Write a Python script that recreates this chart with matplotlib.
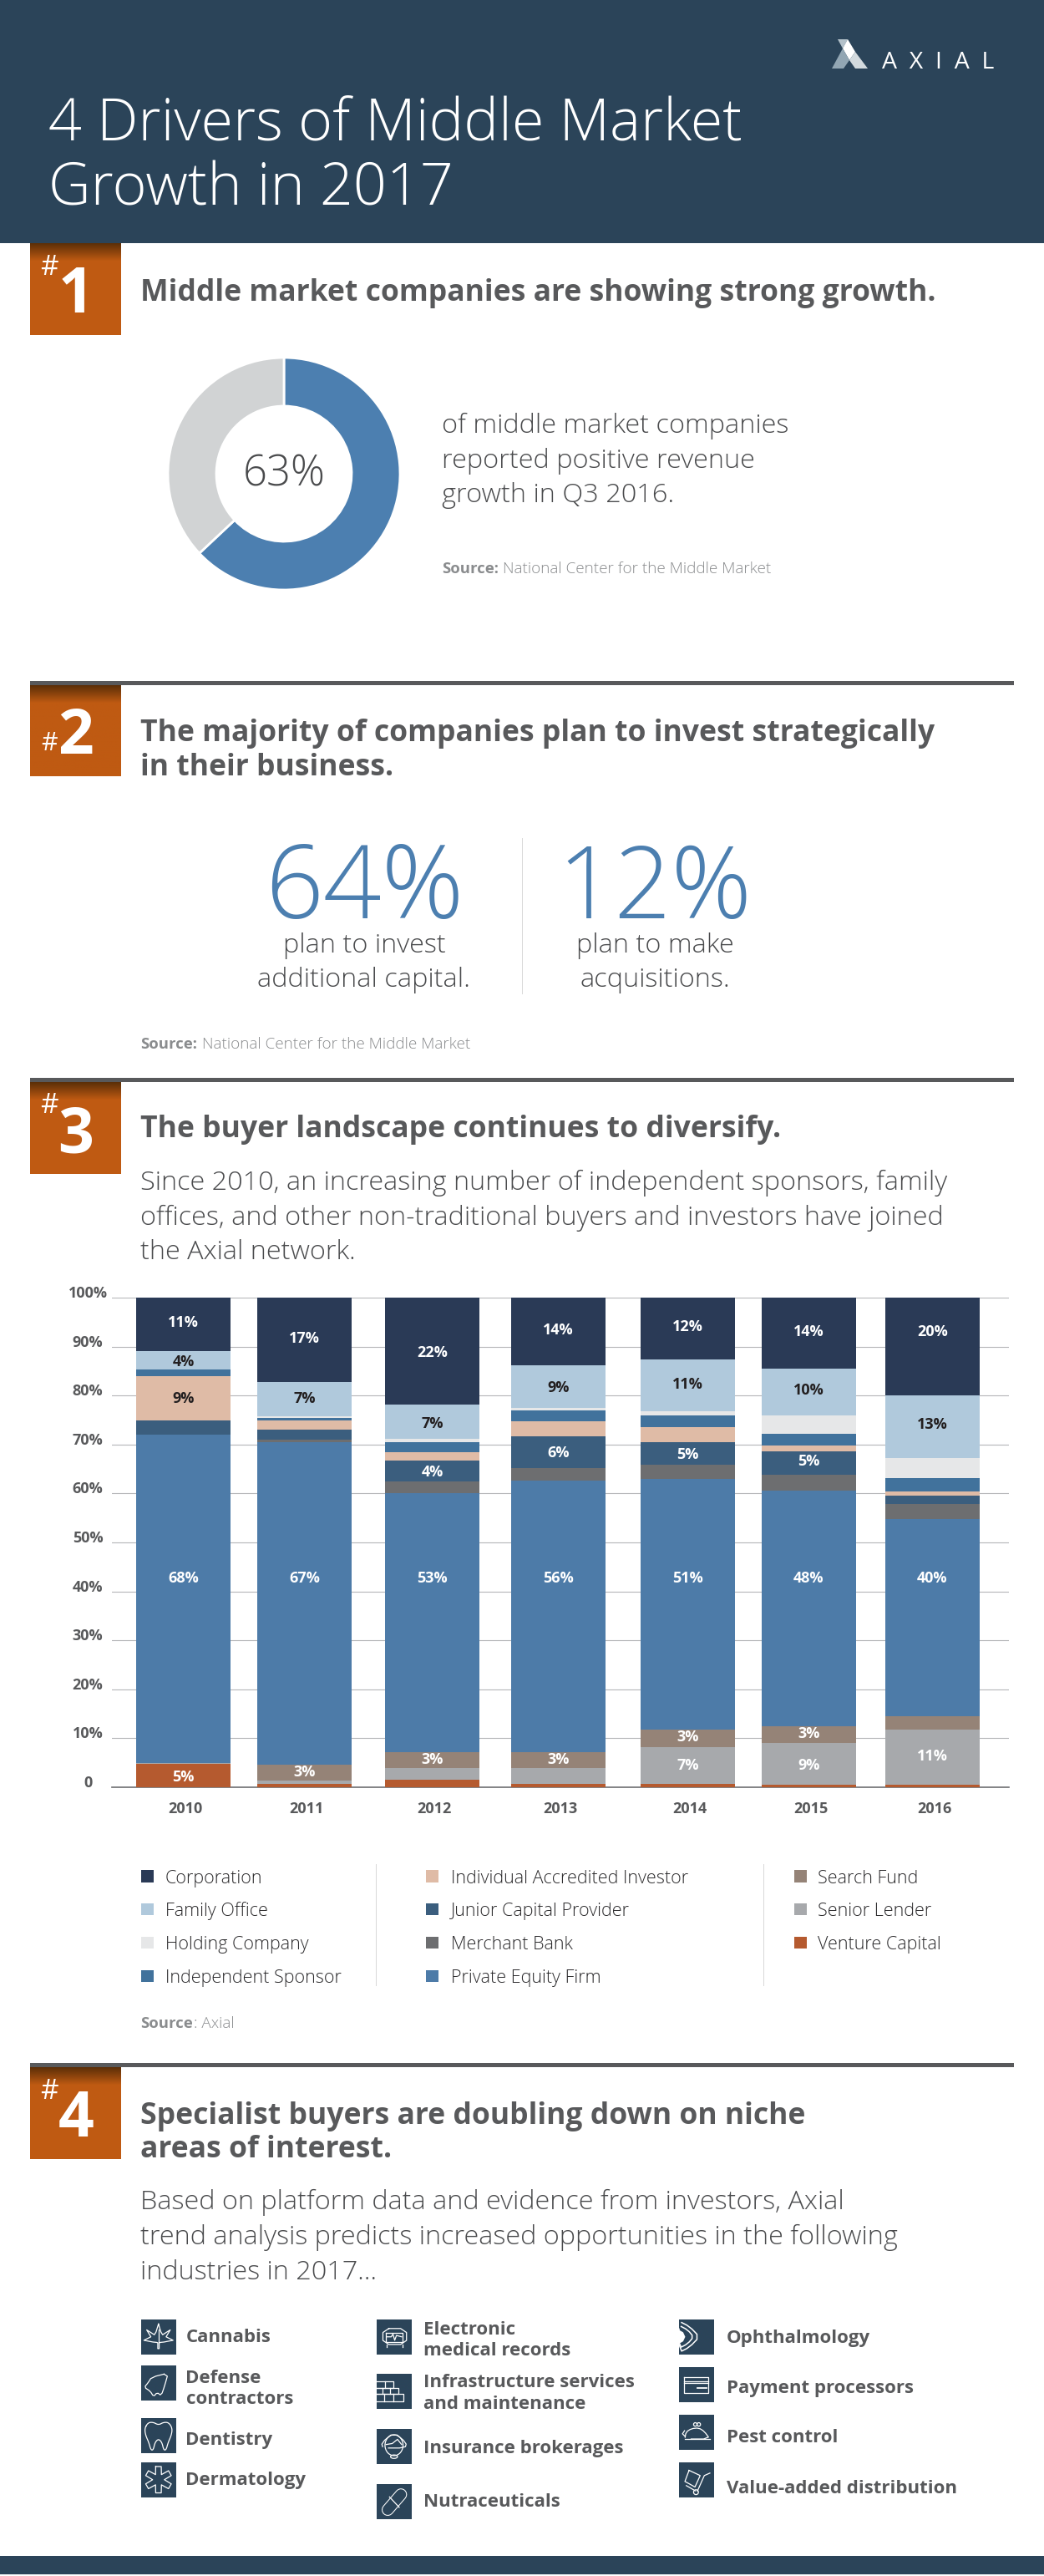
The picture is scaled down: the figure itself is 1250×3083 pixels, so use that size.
import numpy as np
import matplotlib
matplotlib.use("Agg")
import matplotlib.pyplot as plt
from matplotlib.patches import Rectangle, Polygon, Ellipse, Circle

W, H = 1250, 3083

years = ["2010", "2011", "2012", "2013", "2014", "2015", "2016"]

# share of deals per buyer type (bottom to top)
venture_capital = [4.7, 0.75, 1.55, 0.75, 0.75, 0.45, 0.45]
senior_lender = [0.3, 0.65, 2.35, 3.15, 7.4, 8.65, 11.3]
search_fund = [0, 3.25, 3.3, 3.3, 3.6, 3.4, 2.75]
private_equity = [67, 65.75, 52.8, 55.4, 51.2, 48.15, 40.25]
merchant_bank = [0, 0.6, 2.5, 2.6, 2.85, 3.25, 3.1]
junior_capital = [3, 2.1, 4.2, 6.5, 4.7, 4.75, 1.7]
individual_investor = [9, 1.75, 1.7, 3.1, 3, 1.15, 0.9]
independent_sponsor = [1.4, 0.65, 2.1, 2.2, 2.5, 2.45, 2.7]
holding_company = [0, 0.25, 0.65, 0.5, 0.85, 3.65, 4.15]
family_office = [3.6, 7.05, 6.95, 8.7, 10.5, 9.6, 12.7]
corporation = [11, 17.2, 21.9, 13.8, 12.65, 14.5, 20]

series_names = ["Venture Capital", "Senior Lender", "Search Fund", "Private Equity Firm", "Merchant Bank",
                "Junior Capital Provider", "Individual Accredited Investor", "Independent Sponsor",
                "Holding Company", "Family Office", "Corporation"]
series_values = [venture_capital, senior_lender, search_fund, private_equity, merchant_bank, junior_capital,
                 individual_investor, independent_sponsor, holding_company, family_office, corporation]
series_colors = ["#b55a2f", "#a7a9ac", "#958377", "#4d7ba8", "#6d6e70", "#3b5e7e",
                 "#dfbba6", "#41729c", "#e6e7e8", "#b0c9dc", "#2a3a56"]

# printed labels and the height they sit at
corporation_labels = ["11%", "17%", "22%", "14%", "12%", "14%", "20%"]
corporation_label_y = [94.8, 91.6, 88.8, 93.3, 94, 93, 93]
family_labels = ["4%", "7%", "7%", "9%", "11%", "10%", "13%"]
family_label_y = [86.8, 79.4, 74.3, 81.6, 82.2, 81.1, 74]
individual_labels = ["9%", None, None, None, None, None, None]
individual_label_y = [79.4, 0, 0, 0, 0, 0, 0]
junior_labels = [None, None, "4%", "6%", "5%", "5%", None]
junior_label_y = [0, 0, 64.4, 68.3, 68, 66.6, 0]
private_equity_labels = ["68%", "67%", "53%", "56%", "51%", "48%", "40%"]
private_equity_label_y = [42.7, 42.7, 42.7, 42.7, 42.7, 42.7, 42.7]
search_labels = [None, "3%", "3%", "3%", "3%", "3%", None]
search_label_y = [0, 3, 5.6, 5.6, 10.2, 10.9, 0]
senior_labels = [None, None, None, None, "7%", "9%", "11%"]
senior_label_y = [0, 0, 0, 0, 4.4, 4.4, 6.3]
venture_labels = ["5%", None, None, None, None, None, None]
venture_label_y = [2, 0, 0, 0, 0, 0, 0]

y_ticks = [0, 10, 20, 30, 40, 50, 60, 70, 80, 90, 100]
y_tick_labels = ["0", "10%", "20%", "30%", "40%", "50%", "60%", "70%", "80%", "90%", "100%"]

donut_values = [63, 37]

legend_col1 = ["Corporation", "Family Office", "Holding Company", "Independent Sponsor"]
legend_col2 = ["Individual Accredited Investor", "Junior Capital Provider", "Merchant Bank", "Private Equity Firm"]
legend_col3 = ["Search Fund", "Senior Lender", "Venture Capital"]

NAVY = "#2b4459"
ORANGE = np.array([191, 90, 18]) / 255
BROWN = np.array([92, 47, 8]) / 255
BLUE = "#4c7fb0"
GREY_TXT = "#58595b"
BODY = "#4a4b4d"
SRC = "#8a8c8e"
FONT = "Open Sans"

plt.rcParams["font.family"] = [FONT, "DejaVu Sans"]

fig = plt.figure(figsize=(W / 100, H / 100), dpi=100, facecolor="white")


def px_axes(left, top, right, bottom):
    return fig.add_axes([left / W, 1 - bottom / H, (right - left) / W, (bottom - top) / H])


bg = fig.add_axes([0, 0, 1, 1], zorder=0)
bg.set_xlim(0, W)
bg.set_ylim(H, 0)
bg.axis("off")


def txt(x, y, s, size, weight="normal", color=GREY_TXT, ha="left"):
    bg.text(x, y, s, fontsize=size, fontweight=weight, color=color, ha=ha, va="baseline", family=[FONT, "DejaVu Sans"])


def rect(x0, y0, x1, y1, color):
    bg.add_patch(Rectangle((x0, y0), x1 - x0, y1 - y0, facecolor=color, edgecolor="none"))


def badge(top, bottom, num, num_base, hash_base, hash_size=24):
    # orange box with the dark shadow along its top
    t = np.clip(np.linspace(0, 1, 110) / 0.19, 0, 1)[:, None, None]
    grad = BROWN[None, None, :] * (1 - t) + ORANGE[None, None, :] * t
    bg.imshow(grad, extent=(36, 145, bottom, top), aspect="auto", zorder=1)
    bg.set_xlim(0, W)
    bg.set_ylim(H, 0)
    bg.text(91, num_base, num, fontsize=54, fontweight="bold", color="white", ha="center", va="baseline", zorder=2)
    bg.text(59, hash_base, "#", fontsize=hash_size, color="white", ha="center", va="baseline", zorder=2)


def source(x, y, rest, rest_x, bold="Source:"):
    txt(x, y, bold, 13.3, "bold", SRC)
    txt(rest_x, y, rest, 13.6, "light", SRC)


# header
rect(0, 0, W, 291, NAVY)
txt(58, 168, "4 Drivers of Middle Market", 50.4, "light", "white")
txt(58, 246, "Growth in 2017", 50.4, "light", "white")
# logo
bg.add_patch(Polygon([(1003, 47), (1015, 47), (1009, 58)], facecolor="#b3c1ca", edgecolor="none"))
bg.add_patch(Polygon([(1015, 47), (1024, 62), (1017, 72), (1009, 58)], facecolor="white", edgecolor="none"))
bg.add_patch(Polygon([(1009, 58), (1017, 72), (1010, 82), (996, 82)], facecolor="#92a6b3", edgecolor="none"))
bg.add_patch(Polygon([(1024, 62), (1039, 82), (1024, 82), (1017, 72)], facecolor="#d3dade", edgecolor="none"))
txt(1056, 81.5, "A  X  I  A  L", 20.5, "normal", "white")

# section 1
badge(291, 401, "1", 374, 329)
txt(168, 360, "Middle market companies are showing strong growth.", 25.6, "bold")
donut_ax = px_axes(340 - 140, 567 - 140, 340 + 140, 567 + 140)
wedges, wedge_texts = donut_ax.pie(donut_values, colors=[BLUE, "#d1d3d4"], startangle=90, counterclock=False,
                                   radius=139 / 140, wedgeprops=dict(width=58 / 140, edgecolor="white", linewidth=2))
for t in wedge_texts:
    t.remove()
donut_ax.set_xlim(-1, 1)
donut_ax.set_ylim(-1, 1)
txt(340, 582, "63%", 36.5, "light", BODY, ha="center")
txt(529, 518, "of middle market companies", 23.4, "light", BODY)
txt(529, 560, "reported positive revenue", 23.4, "light", BODY)
txt(529, 601, "growth in Q3 2016.", 23.4, "light", BODY)
source(529, 686, "National Center for the Middle Market", 602)

# section 2
rect(36, 815, 1214, 820, GREY_TXT)
badge(820, 929, "2", 902, 898, 22)
txt(168, 887, "The majority of companies plan to invest strategically", 25.6, "bold")
txt(168, 928, "in their business.", 25.6, "bold")
txt(436, 1099, "64%", 88, "light", BLUE, "center")
txt(784, 1099, "12%", 86, "light", BLUE, "center")
txt(436, 1140, "plan to invest", 23.4, "light", BODY, ha="center")
txt(436, 1181, "additional capital.", 23.4, "light", BODY, ha="center")
txt(784, 1140, "plan to make", 23.4, "light", BODY, ha="center")
txt(784, 1181, "acquisitions.", 23.4, "light", BODY, ha="center")
rect(624.5, 1003, 625.5, 1190, "#d9d9d9")
source(168, 1255, "National Center for the Middle Market", 242)

# section 3
rect(36, 1290, 1214, 1295, GREY_TXT)
badge(1295, 1405, "3", 1379, 1332)
txt(168, 1361, "The buyer landscape continues to diversify.", 25.6, "bold")
txt(168, 1424, "Since 2010, an increasing number of independent sponsors, family", 23.3, "light", BODY)
txt(168, 1466, "offices, and other non-traditional buyers and investors have joined", 23.3, "light", BODY)
txt(168, 1507, "the Axial network.", 23.3, "light", BODY)

# stacked bars, x axis runs in figure pixels because the bars are unevenly spaced
bar_centers = [219.5, 364.5, 517.5, 668.5, 823.5, 968.5, 1116.5]
bar_width = 113
ax = px_axes(133.5, 1553, 1208, 2139)
ax.patch.set_alpha(0)
ax.set_xlim(133.5, 1208)
ax.set_ylim(0, 100)
bottom = np.zeros(len(years))
for vals, col in zip(series_values, series_colors):
    ax.bar(bar_centers, vals, bottom=bottom, width=bar_width, color=col, linewidth=0, zorder=3)
    bottom += np.array(vals)

label_sets = [(corporation_labels, corporation_label_y, "white"), (family_labels, family_label_y, "#231f20"),
              (individual_labels, individual_label_y, "#231f20"), (junior_labels, junior_label_y, "white"),
              (private_equity_labels, private_equity_label_y, "white"), (search_labels, search_label_y, "white"),
              (senior_labels, senior_label_y, "white"), (venture_labels, venture_label_y, "white")]
for labels, ys, col in label_sets:
    for cx, lab, yy in zip(bar_centers, labels, ys):
        if lab is not None:
            ax.text(cx, yy, lab, color=col, fontsize=13, fontweight="bold", ha="center", va="center", zorder=4)

ax.set_yticks(y_ticks)
ax.set_yticklabels(y_tick_labels, fontsize=13, fontweight="bold", color=GREY_TXT, ha="center", va="baseline")
ax.tick_params(axis="y", length=0, pad=20.5)
ax.set_xticks([x + 2 for x in bar_centers])
ax.set_xticklabels(years, fontsize=13, fontweight="bold", color=GREY_TXT)
ax.tick_params(axis="x", length=0, pad=12)
ax.grid(axis="y", color="#b5b6b8", linewidth=0.8, zorder=0)
ax.set_axisbelow(True)
for side in ["top", "left", "right"]:
    ax.spines[side].set_visible(False)
ax.spines["bottom"].set_color("#6d6e71")
ax.spines["bottom"].set_linewidth(1.2)

# legend
row_y = [2245.6, 2285, 2325, 2365]
for names, mx, tx in [(legend_col1, 169, 198), (legend_col2, 510, 540), (legend_col3, 951, 979)]:
    for name, ry in zip(names, row_y):
        rect(mx, ry - 7.5, mx + 14.5, ry + 7, series_colors[series_names.index(name)])
        txt(tx, ry + 8, name, 15.5, "light", "#2b2a2c")
rect(450, 2231, 451, 2377, "#d9d9d9")
rect(913.5, 2231, 914.5, 2377, "#d9d9d9")
source(168, 2427, ": Axial", 232, "Source")

# section 4
rect(36, 2469, 1214, 2474, GREY_TXT)
badge(2474, 2584, "4", 2557, 2512)
txt(168, 2542, "Specialist buyers are doubling down on niche", 25.6, "bold")
txt(168, 2582, "areas of interest.", 25.6, "bold")
txt(168, 2644, "Based on platform data and evidence from investors, Axial", 23.3, "light", BODY)
txt(168, 2686, "trend analysis predicts increased opportunities in the following", 23.3, "light", BODY)
txt(168, 2728, "industries in 2017...", 23.3, "light", BODY)


def smooth(pts, n=2):
    # corner cutting so the hand-placed icon outlines read as curves
    pts = np.array(pts, dtype=float)
    for _ in range(n):
        nxt = np.roll(pts, -1, axis=0)
        pts = np.column_stack([0.75 * pts + 0.25 * nxt, 0.25 * pts + 0.75 * nxt]).reshape(-1, 2)
    return pts


def icon(kind, x, y, s=41.5):
    rect(x, y, x + s, y + 42, NAVY)

    def line(pts, closed=False, lw=0.9):
        pts = np.array(pts, dtype=float)
        if closed:
            pts = np.vstack([pts, pts[0]])
        bg.plot(x + pts[:, 0] * s, y + pts[:, 1] * s, color="white", lw=lw, solid_joinstyle="round", zorder=3)

    def oval(cx, cy, rx, ry):
        bg.add_patch(Ellipse((x + cx * s, y + cy * s), 2 * rx * s, 2 * ry * s, facecolor="none",
                             edgecolor="white", lw=0.9, zorder=3))

    def box(u0, v0, u1, v1):
        line([(u0, v0), (u1, v0), (u1, v1), (u0, v1)], True)

    if kind == "cannabis":
        line([(.5, .13), (.57, .36), (.62, .44), (.84, .30), (.72, .50), (.92, .60), (.66, .65), (.56, .66),
              (.52, .67), (.52, .84), (.48, .84), (.48, .67), (.44, .66), (.34, .65), (.08, .60), (.28, .50),
              (.16, .30), (.38, .44), (.43, .36)], True)
        line([(.5, .3), (.5, .67)])
    elif kind == "defense":
        line(smooth([(.78, .22), (.30, .34), (.2, .5), (.09, .63), (.26, .74), (.36, .9), (.46, .78), (.58, .87),
                     (.68, .58)], 1), True)
    elif kind == "tooth":
        line(smooth([(.1, .3), (.2, .13), (.35, .12), (.5, .2), (.65, .12), (.8, .13), (.9, .3), (.87, .5), (.78, .7),
                     (.72, .92), (.65, .92), (.6, .7), (.5, .6), (.4, .7), (.35, .92), (.28, .92), (.22, .7),
                     (.13, .5)]), True)
    elif kind == "derm":
        pts = []
        for k in range(6):
            a = np.pi / 3 * k
            d = np.array([np.sin(a), -np.cos(a)])
            n = np.array([np.cos(a), np.sin(a)])
            c = np.array([.5, .5])
            b = a + np.pi / 6
            pts += [c + d * .38 - n * .08, c + d * .38 + n * .08, c + np.array([np.sin(b), -np.cos(b)]) * .17]
        line(pts, True)
    elif kind == "emr":
        line(smooth([(.18, .26), (.86, .26), (.86, .72), (.18, .72)], 1), True)
        box(.27, .38, .75, .64)
        line([(.3, .5), (.42, .5), (.47, .42), (.52, .6), (.57, .46), (.72, .5)])
        line([(.3, .72), (.3, .8)])
        line([(.74, .72), (.74, .8)])
    elif kind == "bricks":
        for u0, v0, u1, v1, cuts in [(0, .21, .47, .41, [.23]), (0, .41, .62, .59, [.16, .38]),
                                     (0, .59, .78, .79, [.22, .48])]:
            line([(u0, v0), (u1, v0), (u1, v1), (u0, v1)])
            for c in cuts:
                line([(c, v0), (c, v1)])
    elif kind == "headset":
        oval(.5, .47, .26, .3)
        line([(.27, .45), (.45, .42), (.6, .3), (.72, .45)])
        oval(.5, .8, .1, .05)
        line(smooth([(.18, .55), (.14, .4), (.5, .1), (.86, .4), (.82, .55)], 1))
    elif kind == "pill":
        xs = [x + .32 * s, x + .70 * s]
        ys = [y + .74 * s, y + .30 * s]
        bg.plot(xs, ys, color="white", lw=10.5, solid_capstyle="round", zorder=3)
        bg.plot(xs, ys, color=NAVY, lw=9, solid_capstyle="round", zorder=3)
        line([(.37, .37), (.65, .67)])
    elif kind == "eye":
        line(smooth([(0, .05), (.3, .2), (.59, .5), (.3, .8), (0, .95)], 1), lw=1.1)
        line(smooth([(0, .17), (.25, .3), (.42, .5), (.25, .7), (0, .83)], 1), lw=1.1)
        bg.add_patch(Polygon(np.column_stack([x + np.array([0, .12, .18, .12, 0]) * s,
                                              y + np.array([.3, .37, .5, .63, .7]) * s]),
                             facecolor="white", edgecolor="none", zorder=3))
    elif kind == "card":
        box(.15, .3, .85, .75)
        line([(.15, .41), (.85, .41)])
        line([(.15, .46), (.85, .46)])
        line([(.52, .6), (.8, .6)], lw=1.3)
    elif kind == "mouse":
        line(smooth([(.17, .7), (.2, .5), (.36, .4), (.57, .38), (.73, .48), (.89, .7)], 1))
        line([(.17, .7), (.89, .7)])
        line([(.17, .62), (.1, .55), (.16, .46)])
        bg.add_patch(Circle((x + .47 * s, y + .28 * s), .05 * s, facecolor="none", edgecolor="white", lw=.9, zorder=3))
        bg.add_patch(Circle((x + .57 * s, y + .28 * s), .05 * s, facecolor="none", edgecolor="white", lw=.9, zorder=3))
    elif kind == "cart":
        line([(.29, .23), (.61, .38), (.46, .71), (.17, .55)], True)
        line([(.89, .31), (.73, .38), (.53, .83)])
        line([(.21, .67), (.47, .82)])
        oval(.49, .86, .07, .07)


icon_col1 = ["cannabis", "defense", "tooth", "derm"]
icon_col1_top = [2776, 2831, 2894, 2947]
icon_col2 = ["emr", "bricks", "headset", "pill"]
icon_col2_top = [2776, 2841, 2907, 2973]
icon_col3 = ["eye", "card", "mouse", "cart"]
icon_col3_top = [2776, 2833, 2890, 2947]
for kinds, tops, ix in [(icon_col1, icon_col1_top, 169), (icon_col2, icon_col2_top, 451), (icon_col3, icon_col3_top, 813)]:
    for k, t in zip(kinds, tops):
        icon(k, ix, t)

for tx, ty, s in [(222.5, 2803, "Cannabis"), (222.5, 2852, "Defense"), (222.5, 2877, "contractors"),
                  (222.5, 2926, "Dentistry"), (222.5, 2974, "Dermatology"),
                  (507, 2794, "Electronic"), (507, 2819, "medical records"), (507, 2857, "Infrastructure services"),
                  (507, 2883, "and maintenance"), (507, 2936, "Insurance brokerages"), (507, 3000, "Nutraceuticals"),
                  (870, 2804, "Ophthalmology"), (870, 2864, "Payment processors"), (870, 2923, "Pest control"),
                  (870, 2984, "Value-added distribution")]:
    txt(tx, ty, s, 16, "bold")

rect(0, 3059, W, 3081, NAVY)

fig.savefig("out.png", dpi=100, facecolor="white")
